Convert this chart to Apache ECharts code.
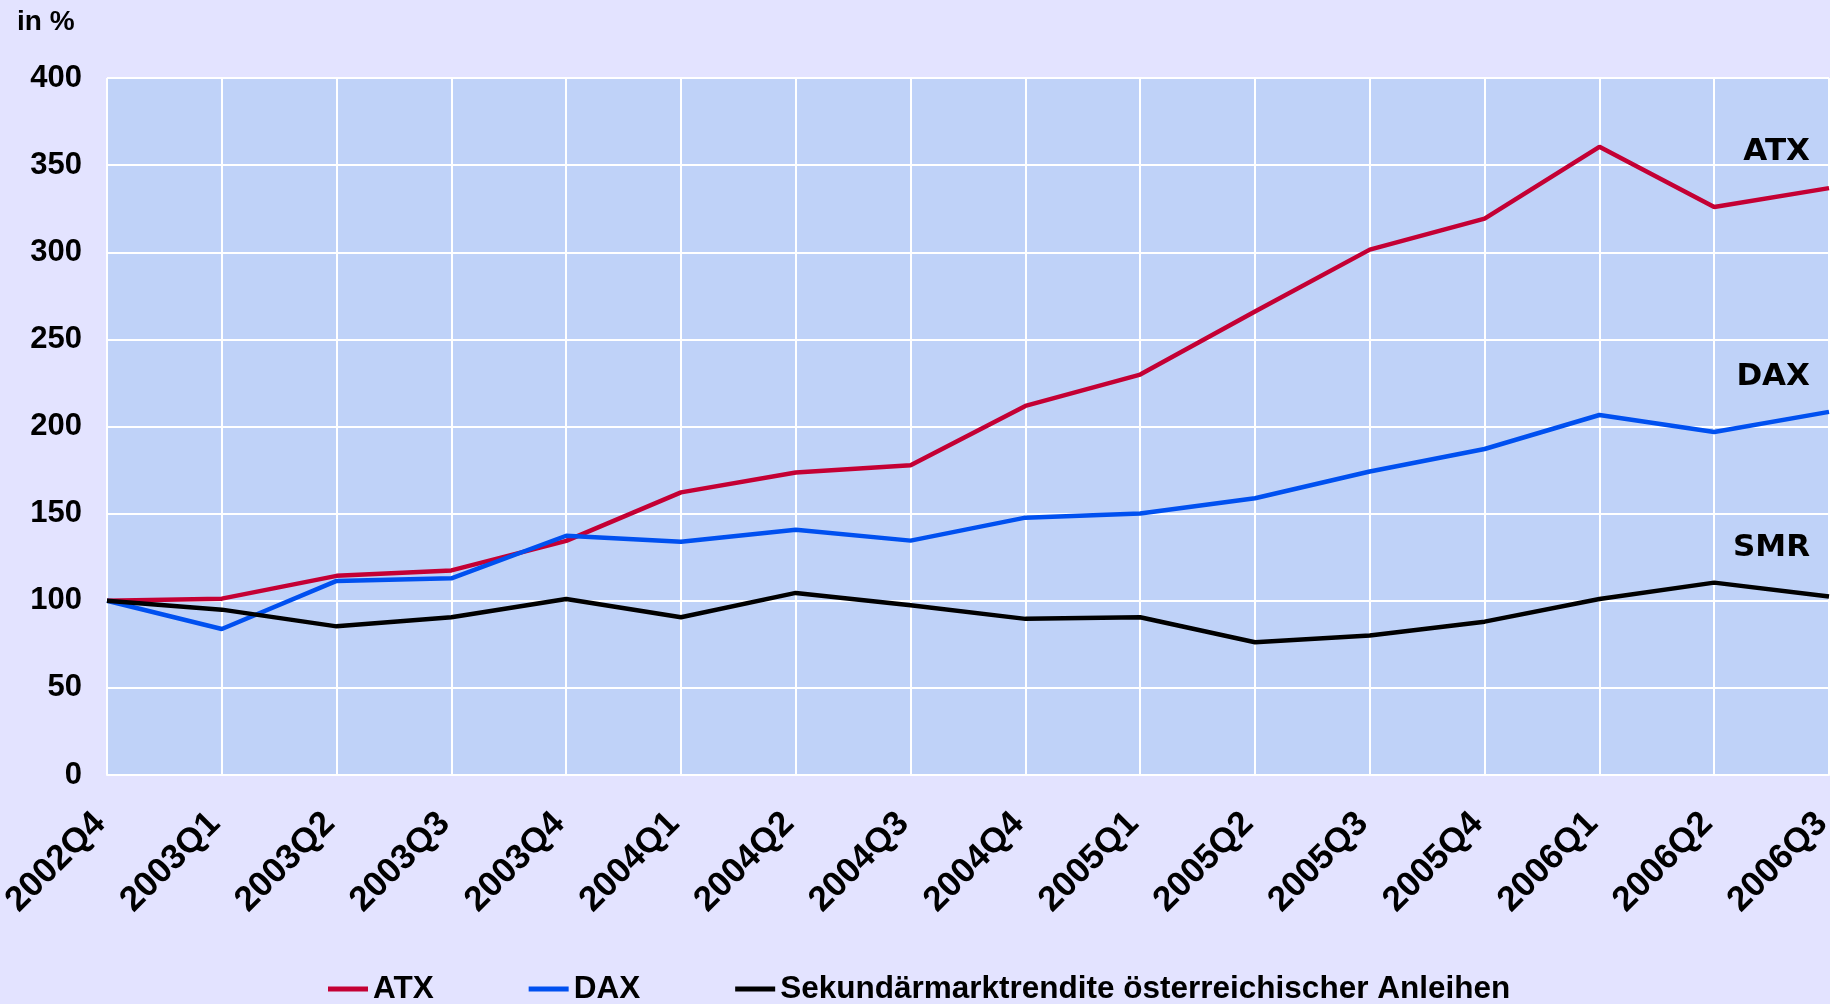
<!DOCTYPE html>
<html>
<head>
<meta charset="utf-8">
<script src="https://cdn.jsdelivr.net/npm/echarts@6/dist/echarts.min.js"></script>
<style>
html,body{margin:0;padding:0;background:#e3e3ff;}
#chart{width:1830px;height:1004px;}
</style>
</head>
<body>
<div id="chart"></div>
<script>
// quarters on the x axis
var quarters = ['2002Q4','2003Q1','2003Q2','2003Q3','2003Q4','2004Q1','2004Q2','2004Q3',
                '2004Q4','2005Q1','2005Q2','2005Q3','2005Q4','2006Q1','2006Q2','2006Q3'];
// index values, 2002Q4 = 100
var atx = [100,101.2,114.3,117.4,134.4,162.2,173.6,177.7,211.8,229.8,266,301.5,319.3,360.5,326,336.8];
var dax = [100,83.8,111.4,112.9,137.3,133.9,140.8,134.5,147.7,150.1,158.8,174.2,187.1,206.6,196.8,208.4];
var smr = [100,94.9,85.3,90.5,101,90.5,104.5,97.4,89.6,90.5,76.2,80,88,101,110.4,102.5];
var seriesNames = ['ATX','DAX','Sekundärmarktrendite österreichischer Anleihen'];
var lineLabels = ['ATX','DAX','SMR'];

var font = '"Liberation Sans", Arial, sans-serif';
var labelFont = 'bold 31px "DejaVu Sans", sans-serif';
var myChart = echarts.init(document.getElementById('chart'));

var option = {
    backgroundColor: '#e3e3ff',
    animation: false,
    grid: {
        left: 107, right: 1, top: 78, bottom: 229,
        outerBoundsMode: 'none',
        containLabel: false,
        show: true,
        backgroundColor: '#bfd2f8',
        borderWidth: 0
    },
    legend: {
        data: seriesNames,
        top: 968,
        left: 323,
        itemGap: 95,
        itemWidth: 40,
        itemHeight: 5,
        icon: 'rect',
        textStyle: {fontFamily: font, fontWeight: 'bold', fontSize: 31.5, color: '#000'}
    },
    graphic: [
        {type: 'text', right: 20, top: 136, style: {text: lineLabels[0], font: labelFont, fill: '#000'}},
        {type: 'text', right: 20, top: 361, style: {text: lineLabels[1], font: labelFont, fill: '#000'}},
        {type: 'text', right: 20, top: 532, style: {text: lineLabels[2], font: labelFont, fill: '#000'}},
        {type: 'text', left: 17, top: 8, style: {text: 'in %', font: 'bold 28px ' + font, fill: '#000'}}
    ],
    xAxis: {
        type: 'category',
        data: quarters,
        boundaryGap: false,
        axisLine: {lineStyle: {color: '#fff', width: 2}},
        axisTick: {show: false},
        splitLine: {show: true, lineStyle: {color: '#fff', width: 2}},
        axisLabel: {
            rotate: 45,
            margin: 36,
            padding: [0, 10, 0, 0],
            interval: 0,
            hideOverlap: false,
            fontFamily: font, fontWeight: 'bold', fontSize: 35, color: '#000'
        }
    },
    yAxis: {
        type: 'value',
        min: 0, max: 400, interval: 50,
        axisLine: {show: false},
        axisTick: {show: false},
        splitLine: {lineStyle: {color: '#fff', width: 2}},
        axisLabel: {margin: 25, fontFamily: font, fontWeight: 'bold', fontSize: 31, color: '#000'}
    },
    series: [
        {name: seriesNames[0], type: 'line', data: atx, symbol: 'none', color: '#c40034', lineStyle: {width: 4.5}},
        {name: seriesNames[1], type: 'line', data: dax, symbol: 'none', color: '#0050f0', lineStyle: {width: 4.5}},
        {name: seriesNames[2], type: 'line', data: smr, symbol: 'none', color: '#000000', lineStyle: {width: 4.5}}
    ]
};
myChart.setOption(option);
</script>
</body>
</html>
